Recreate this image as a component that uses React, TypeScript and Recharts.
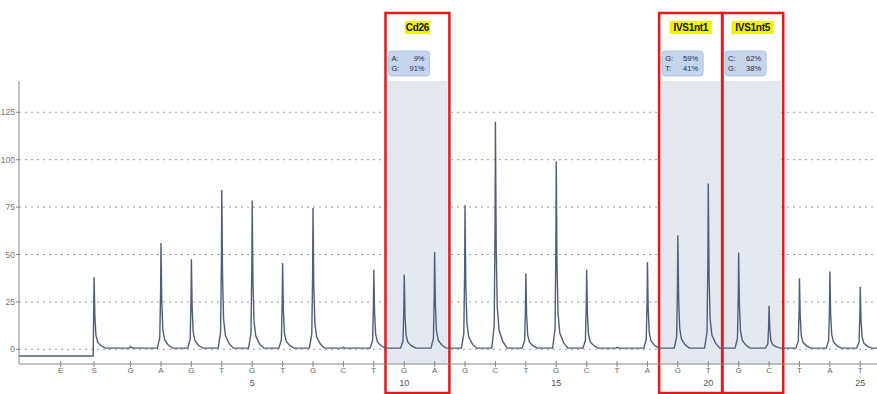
import { LineChart, Line, XAxis, YAxis, CartesianGrid, ReferenceArea } from "recharts";

// dispensation order after E / S
const dispensations = ["G", "A", "G", "T", "G", "T", "G", "C", "T", "G", "A", "G", "C", "T", "G", "C", "T", "A", "G", "T", "G", "C", "T", "A", "T"];
const peakHeights = [1.5, 56, 47.5, 84, 78.5, 45.5, 74.5, 1, 42, 39.5, 51.5, 76, 120, 40, 99, 42, 1, 46, 60, 87.5, 51, 23, 37.5, 41, 33];

const enzymePos = -1.3;
const substratePos = -0.2;
const substratePeak = 38;
const preBaseline = -3.5;
const baseline = 0.6;

const yTicks = [0, 25, 50, 75, 100, 125];
const numberedPositions = [5, 10, 15, 20, 25];

const regionNames = ["Cd26", "IVS1nt1", "IVS1nt5"];
const regionFrom = [9.45, 18.45, 20.52];
const regionTo = [11.42, 20.4, 22.4];
const regionAllele1 = [["A:", "9%"], ["G:", "59%"], ["C:", "62%"]];
const regionAllele2 = [["G:", "91%"], ["T:", "41%"], ["G:", "38%"]];

// shape of one pyrogram peak: [offset in dispensations, fraction of height]
const PEAK_SHAPE: [number, number][] = [
  [-0.12, 0.0],
  [-0.04, 0.1],
  [-0.012, 0.55],
  [0, 1],
  [0.025, 0.45],
  [0.06, 0.18],
  [0.12, 0.08],
  [0.24, 0.03],
  [0.38, 0.0],
];

const X_MIN = -2.67;
const X_MAX = 25.55;

function buildTrace() {
  const pts: { x: number; v: number }[] = [];
  pts.push({ x: X_MIN, v: preBaseline });
  pts.push({ x: substratePos - 0.03, v: preBaseline });
  for (const [dx, f] of PEAK_SHAPE) {
    if (dx < 0) continue;
    pts.push({ x: substratePos + dx, v: baseline + (substratePeak - baseline) * f });
  }
  dispensations.forEach((_, i) => {
    const pos = i + 1;
    const h = peakHeights[i];
    for (const [dx, f] of PEAK_SHAPE) {
      pts.push({ x: pos + dx, v: baseline + (h - baseline) * f });
    }
  });
  pts.push({ x: X_MAX, v: baseline });
  return pts;
}

const trace = buildTrace();
const xTicks = [enzymePos, substratePos, ...dispensations.map((_, i) => i + 1)];

function tickLetter(v: number) {
  if (v === enzymePos) return "E";
  if (v === substratePos) return "S";
  return dispensations[v - 1];
}

const FONT = "'Liberation Sans', Arial, sans-serif";

function DispTick(props: any) {
  const { x, y, payload } = props;
  const v = payload.value;
  return (
    <g>
      <line x1={x} x2={x} y1={y - 7} y2={y - 1} stroke="#888" strokeWidth={1} />
      <text x={x} y={y + 5} textAnchor="middle" fontSize={8} fill="#666" fontFamily={FONT}>
        {tickLetter(v)}
      </text>
      {numberedPositions.includes(v) && (
        <text x={x} y={y + 18} textAnchor="middle" fontSize={9} fill="#555" fontFamily={FONT}>
          {v}
        </text>
      )}
    </g>
  );
}

function regionLabel(i: number) {
  return (props: any) => {
    const vb = props.viewBox || {};
    const { x, y, width, height } = vb;
    if (x == null) return null;
    const cx = x + width / 2;
    const name = regionNames[i];
    const tw = name.length * 5.6 + 3;
    return (
      <g>
        <rect x={x - 2} y={y - 68} width={width + 4} height={height + 97} fill="none" stroke="#e3191c" strokeWidth={2.5} />
        <rect x={cx - tw / 2} y={y - 60} width={tw} height={13} fill="#f4f400" />
        <text x={cx} y={y - 50} textAnchor="middle" fontSize={10} fontWeight="bold" fill="#111" fontFamily={FONT} letterSpacing={-0.3}>
          {name}
        </text>
        <rect x={x + 1} y={y - 30} width={41} height={25} rx={3} fill="#c6d5ec" stroke="#aabbd8" strokeWidth={0.8} />
        <text x={x + 4} y={y - 20} fontSize={7.5} fill="#1d2a4a" fontFamily={FONT}>{regionAllele1[i][0]}</text>
        <text x={x + 37} y={y - 20} fontSize={7.5} fill="#1d2a4a" textAnchor="end" fontFamily={FONT}>{regionAllele1[i][1]}</text>
        <text x={x + 4} y={y - 10} fontSize={7.5} fill="#1d2a4a" fontFamily={FONT}>{regionAllele2[i][0]}</text>
        <text x={x + 37} y={y - 10} fontSize={7.5} fill="#1d2a4a" textAnchor="end" fontFamily={FONT}>{regionAllele2[i][1]}</text>
      </g>
    );
  };
}

export default function App() {
  return (
    <div style={{ position: "absolute", left: 0, top: 0, width: 877, height: 394, background: "#fff" }}>
      <LineChart width={877} height={394} data={trace} margin={{ top: 81, right: 0, bottom: 0, left: 0 }}>
        <CartesianGrid vertical={false} horizontalValues={yTicks} stroke="#9a9a9a" strokeDasharray="2 4" />
        {regionNames.map((n, i) => (
          <ReferenceArea
            key={n}
            x1={regionFrom[i]}
            x2={regionTo[i]}
            fill="#e4e9f0"
            fillOpacity={1}
            stroke="none"
            ifOverflow="visible"
            label={regionLabel(i)}
          />
        ))}
        <XAxis
          dataKey="x"
          type="number"
          domain={[X_MIN, X_MAX]}
          ticks={xTicks}
          interval={0}
          height={30}
          tickSize={4}
          tickMargin={0}
          tickLine={false}
          axisLine={{ stroke: "#888" }}
          tick={<DispTick />}
          allowDataOverflow
        />
        <YAxis
          type="number"
          domain={[-7.75, 141.5]}
          ticks={yTicks}
          width={19}
          tickSize={3}
          tickMargin={1}
          axisLine={{ stroke: "#888" }}
          tickLine={{ stroke: "#888" }}
          tick={{ fontSize: 8.5, fill: "#777", fontFamily: FONT }}
          allowDataOverflow
        />
        <Line
          dataKey="v"
          type="linear"
          stroke="#505d7c"
          strokeWidth={1.4}
          dot={false}
          activeDot={false}
          isAnimationActive={false}
        />
      </LineChart>
    </div>
  );
}
